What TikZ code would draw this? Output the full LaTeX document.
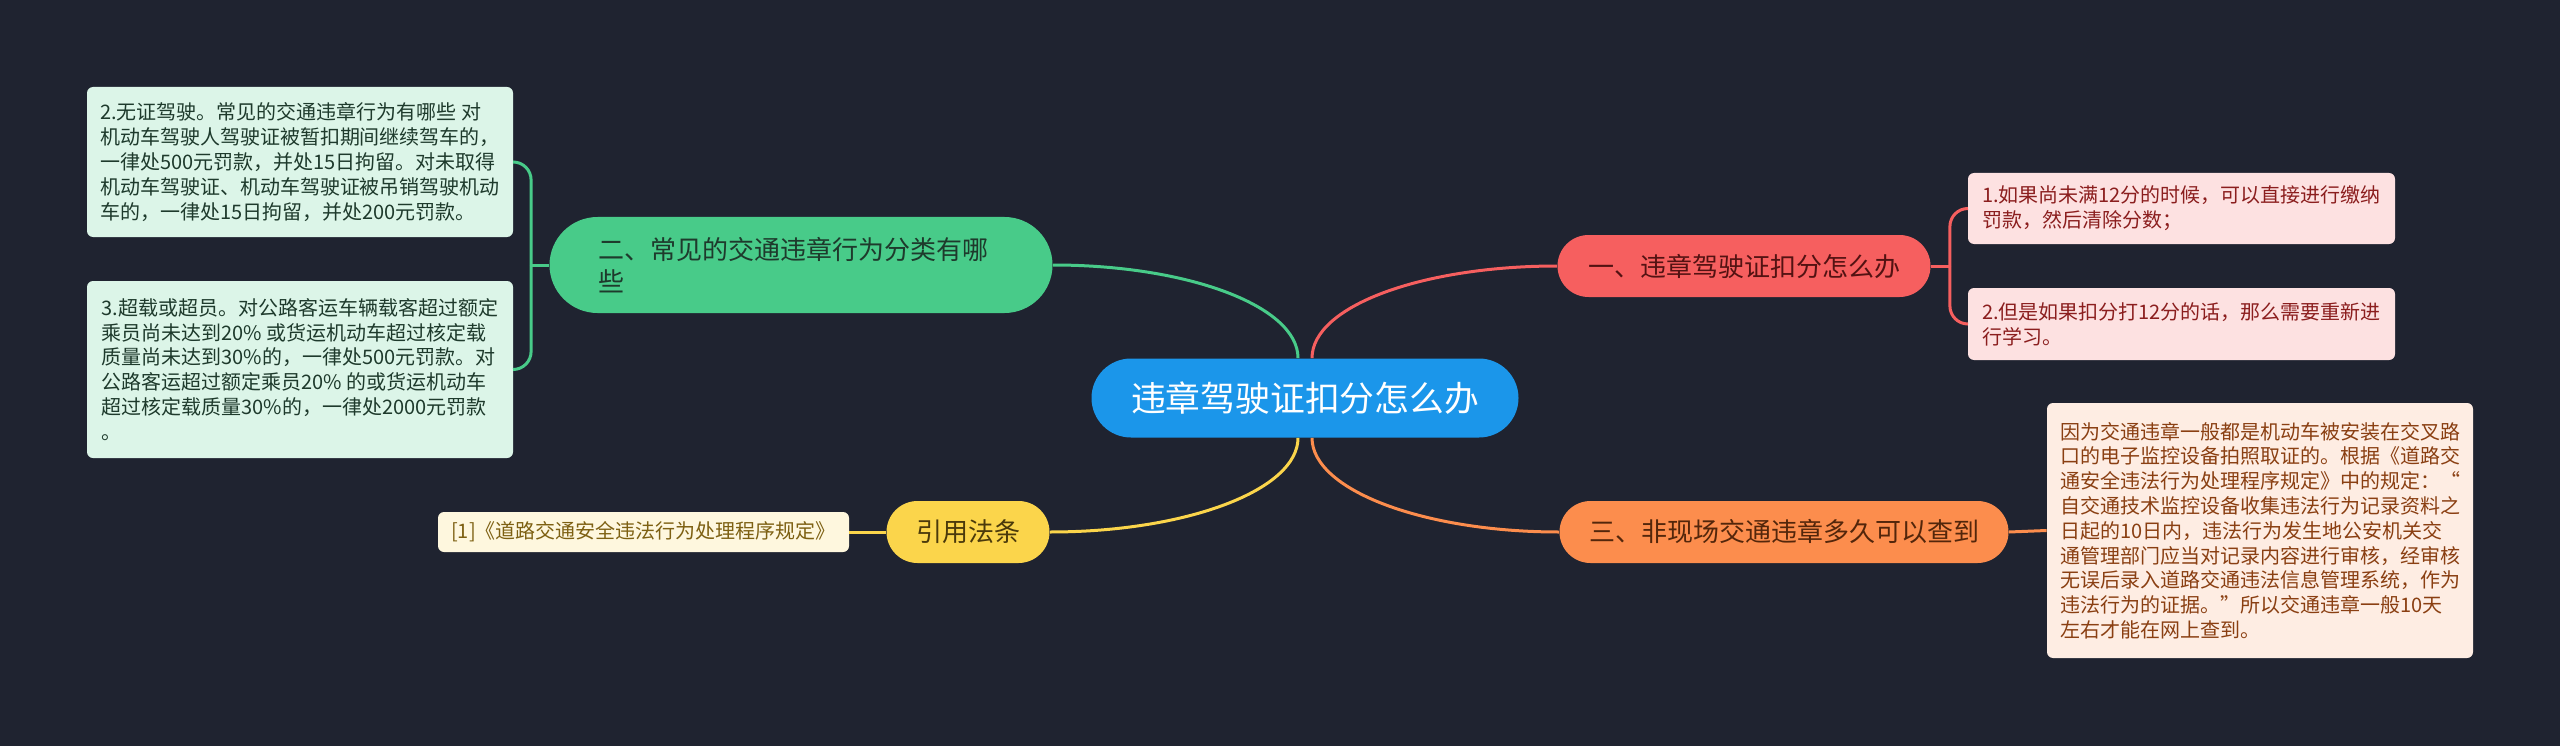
\documentclass[tikz,border=0pt]{standalone}
\usepackage{fontspec}
\setmainfont{Noto Sans CJK SC}

\definecolor{bgdark}{HTML}{1F2330}
\definecolor{rootblue}{HTML}{1B96EA}
\definecolor{redtopic}{HTML}{F65F5F}
\definecolor{greentopic}{HTML}{48CB89}
\definecolor{orangetopic}{HTML}{FC8D4D}
\definecolor{yellowtopic}{HTML}{FBD54B}
\definecolor{redleaf}{HTML}{FDE1E1}
\definecolor{greenleaf}{HTML}{DCF5E8}
\definecolor{orangeleaf}{HTML}{FEEDE3}
\definecolor{yellowleaf}{HTML}{FEF7DE}
\definecolor{redtext}{HTML}{8B1E1E}
\definecolor{greentext}{HTML}{1E3A2C}
\definecolor{orangetext}{HTML}{8A3F12}
\definecolor{yellowtext}{HTML}{7D6012}

\begin{document}
\begin{tikzpicture}[x=0.5pt, y=0.5pt,
    topic/.style={rectangle, rounded corners=15.5pt, minimum height=31pt, inner sep=0pt,
        font=\fontsize{13pt}{16pt}\selectfont},
    leaf/.style={rectangle, rounded corners=3pt, inner sep=0pt, align=left,
        font=\fontsize{10pt}{12.4pt}\selectfont},
    link/.style={line width=1.5pt}]
        % Background
        \fill[bgdark] (0,0) rectangle (2560,746);
        \useasboundingbox (0,0) rectangle (2560,746);

        % Central topic
        \node[rectangle, rounded corners=19.75pt, minimum width=213.5pt, minimum height=39.5pt, fill=rootblue, text=white, font=\fontsize{17.4pt}{20pt}\selectfont] (root) at (1305,348) {违章驾驶证扣分怎么办};

        % Main topics
        \node[topic, minimum width=186.5pt, fill=redtopic, text=redtext!60!black] (b1) at (1744,480) {一、违章驾驶证扣分怎么办};
        \node[topic, minimum width=251.5pt, minimum height=48pt, rounded corners=24pt, fill=greentopic, text=greentext, text width=203pt, align=left] (b2) at (801,481) {二、常见的交通违章行为分类有哪\\些};
        \node[topic, minimum width=224.5pt, fill=orangetopic, text=orangetext!60!black] (b3) at (1784,214) {三、非现场交通违章多久可以查到};
        \node[topic, minimum width=81.5pt, fill=yellowtopic, text=yellowtext!60!black] (b4) at (968,214) {引用法条};

        % Leaves of topic one
        \node[leaf, minimum width=213.5pt, minimum height=35.5pt, fill=redleaf, text=redtext] (l11) at (2181.5,537.5) {1.如果尚未满12分的时候，可以直接进行缴纳\\罚款，然后清除分数；};
        \node[leaf, minimum width=213.5pt, minimum height=36pt, fill=redleaf, text=redtext] (l12) at (2181.5,422) {2.但是如果扣分打12分的话，那么需要重新进\\行学习。};

        % Leaves of topic two
        \node[leaf, minimum width=213pt, minimum height=75pt, fill=greenleaf, text=greentext] (l21) at (300,584) {2.无证驾驶。常见的交通违章行为有哪些 对\\机动车驾驶人驾驶证被暂扣期间继续驾车的，\\一律处500元罚款，并处15日拘留。对未取得\\机动车驾驶证、机动车驾驶证被吊销驾驶机动\\车的，一律处15日拘留，并处200元罚款。};
        \node[leaf, minimum width=213pt, minimum height=88.5pt, fill=greenleaf, text=greentext] (l22) at (300,376.5) {3.超载或超员。对公路客运车辆载客超过额定\\乘员尚未达到20\% 或货运机动车超过核定载\\质量尚未达到30\%的，一律处500元罚款。对\\公路客运超过额定乘员20\% 的或货运机动车\\超过核定载质量30\%的，一律处2000元罚款\\。};

        % Leaf of topic three
        \node[leaf, minimum width=213pt, minimum height=127.5pt, fill=orangeleaf, text=orangetext] (l31) at (2260,215.5) {因为交通违章一般都是机动车被安装在交叉路\\口的电子监控设备拍照取证的。根据《道路交\\通安全违法行为处理程序规定》中的规定：“\\自交通技术监控设备收集违法行为记录资料之\\日起的10日内，违法行为发生地公安机关交\\通管理部门应当对记录内容进行审核，经审核\\无误后录入道路交通违法信息管理系统，作为\\违法行为的证据。”所以交通违章一般10天\\左右才能在网上查到。};

        % Reference leaf
        \node[leaf, minimum width=205.5pt, minimum height=20pt, fill=yellowleaf, text=yellowtext] (lref) at (643.5,214) {[1]《道路交通安全违法行为处理程序规定》};

        % Curves from the centre
        \draw[link, greentopic] ([xshift=-3.5pt]root.north) .. controls +(0,52) and +(135,0) .. (b2.east);
        \draw[link, redtopic] ([xshift=3.5pt]root.north) .. controls +(0,52) and +(-135,0) .. (b1.west);
        \draw[link, yellowtopic] ([xshift=-3.5pt]root.south) .. controls +(0,-52) and +(137,0) .. (b4.east);
        \draw[link, orangetopic] ([xshift=3.5pt]root.south) .. controls +(0,-52) and +(-136,0) .. (b3.west);

        % Brackets to leaves
        \coordinate (j1) at ([xshift=9.5pt]b1.east);
        \draw[link, redtopic] (b1.east) -- (j1);
        \draw[link, redtopic, rounded corners=9pt] (j1) |- (l11.west);
        \draw[link, redtopic, rounded corners=9pt] (j1) |- (l12.west);

        \coordinate (j2) at ([xshift=-9pt]b2.west);
        \draw[link, greentopic] (b2.west) -- (j2);
        \draw[link, greentopic, rounded corners=9pt] (j2) |- (l21.east);
        \draw[link, greentopic, rounded corners=9pt] (j2) |- (l22.east);

        \draw[link, orangetopic] (b3.east) -- (l31.west);
        \draw[link, yellowtopic] (b4.west) -- (lref.east);
    \end{tikzpicture}
\end{document}
